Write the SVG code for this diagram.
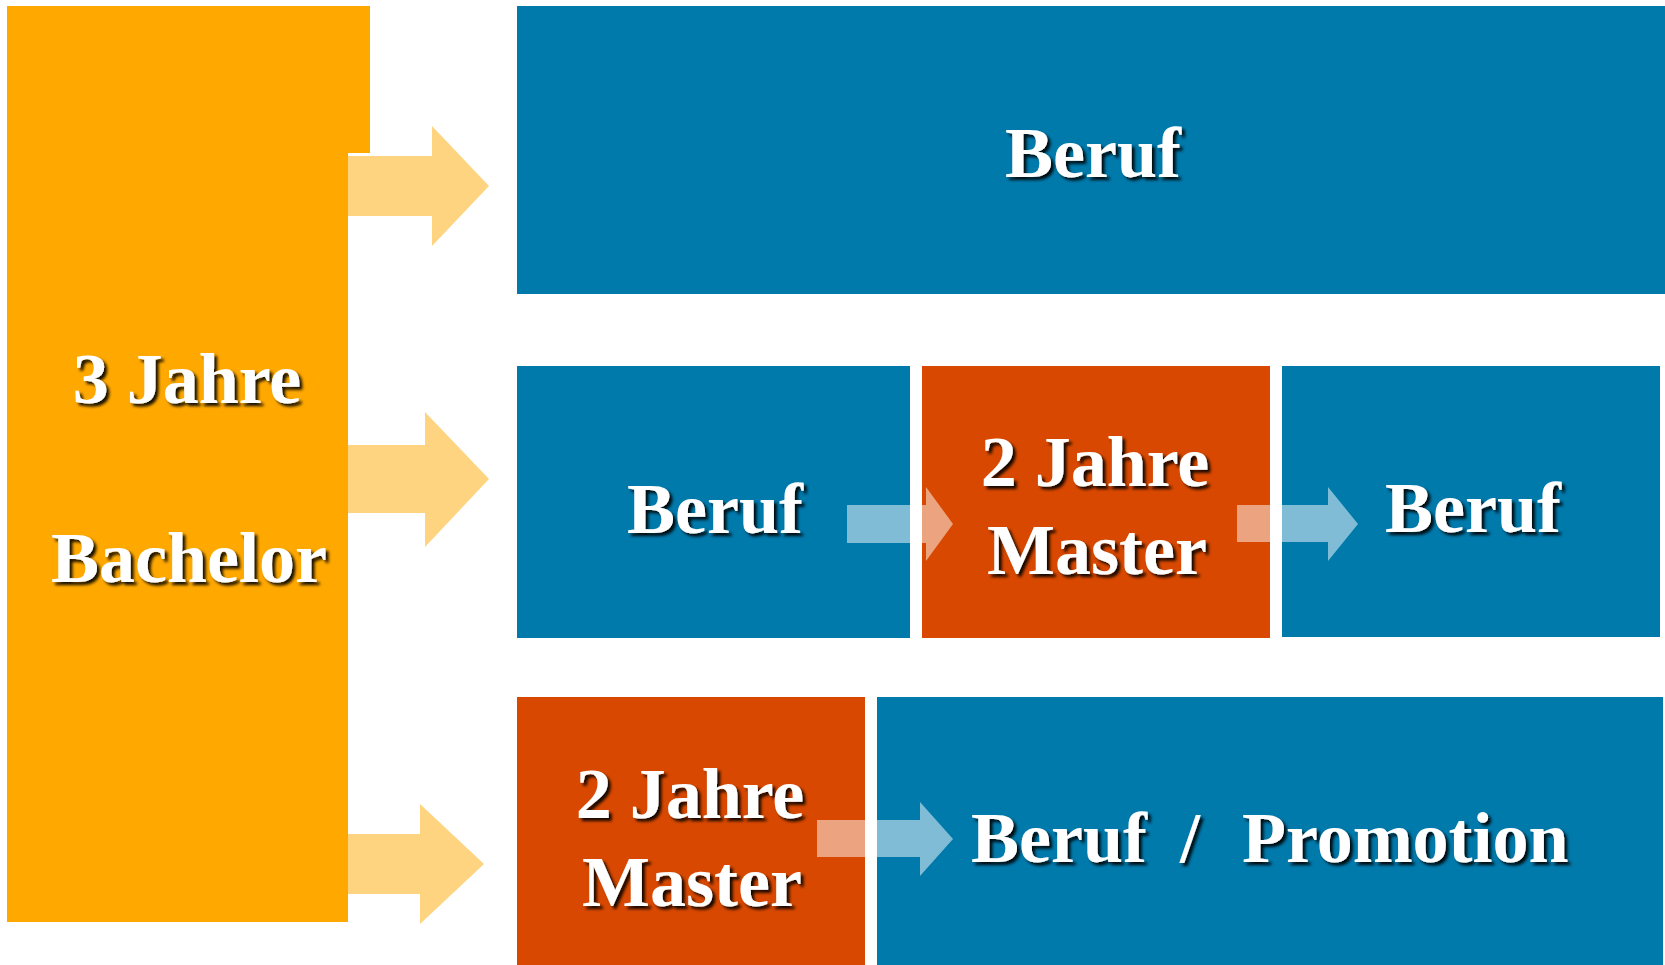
<svg xmlns="http://www.w3.org/2000/svg" width="1665" height="965" viewBox="0 0 1665 965">
<defs>
<filter id="sh" x="-10%" y="-20%" width="130%" height="150%">
<feDropShadow dx="3" dy="3" stdDeviation="1.6" flood-color="#000" flood-opacity="0.9"/>
</filter>
<style>
.blue{fill:#0079AB}
.dark{fill:#D84800}
.gold{fill:#FFA800}
.yarrow{fill:#FED480}
.warrow{fill:#FFFFFF;fill-opacity:0.5}
.t{font-family:"Liberation Serif","Times New Roman",serif;font-weight:bold;font-size:72px;fill:#FFFFFF;filter:url(#sh)}
</style>
</defs>
<rect width="1665" height="965" fill="#FFFFFF"/>
<g id="bachelor">
<path class="gold" d="M7,6 H370 V153 H348 V922 H7 Z"/>
<text class="t" text-anchor="middle" x="187" y="403">3 Jahre</text>
<text class="t" text-anchor="middle" x="189" y="582">Bachelor</text>
</g>
<g id="beruf-top">
<rect class="blue" x="517" y="6" width="1148" height="288"/>
<text class="t" text-anchor="middle" x="1093" y="177">Beruf</text>
</g>
<g id="beruf-mid1">
<rect class="blue" x="517" y="366" width="393" height="272"/>
<text class="t" text-anchor="middle" x="715" y="533">Beruf</text>
</g>
<g id="master-mid">
<rect class="dark" x="922" y="366" width="348" height="272"/>
<text class="t" text-anchor="middle" x="1095" y="486">2 Jahre</text>
<text class="t" text-anchor="middle" x="1097" y="574">Master</text>
</g>
<g id="beruf-mid2">
<rect class="blue" x="1282" y="366" width="378" height="271"/>
<text class="t" text-anchor="middle" x="1473" y="532">Beruf</text>
</g>
<g id="master-bottom">
<rect class="dark" x="517" y="697" width="348" height="268"/>
<text class="t" text-anchor="middle" x="690" y="818">2 Jahre</text>
<text class="t" text-anchor="middle" x="692" y="906">Master</text>
</g>
<g id="beruf-promotion">
<rect class="blue" x="877" y="697" width="786" height="268"/>
<text class="t" x="971" y="862"><tspan x="971">Beruf</tspan><tspan x="1180">/</tspan><tspan x="1242">Promotion</tspan></text>
</g>
<g id="connectors">
<path class="yarrow" d="M348,156 H432 V126 L489,186 L432,246 V216 H348 Z"/>
<path class="yarrow" d="M348,445 H425 V412 L489,479 L425,547 V513 H348 Z"/>
<path class="yarrow" d="M348,834 H420 V804 L484,864 L420,924 V894 H348 Z"/>
<path class="warrow" d="M847,505 H926 V487 L953,524 L926,561 V543 H847 Z"/>
<path class="warrow" d="M1237,505 H1328 V487 L1358,524 L1328,561 V542 H1237 Z"/>
<path class="warrow" d="M817,820 H920 V802 L953,839 L920,876 V857 H817 Z"/>
</g>
</svg>
